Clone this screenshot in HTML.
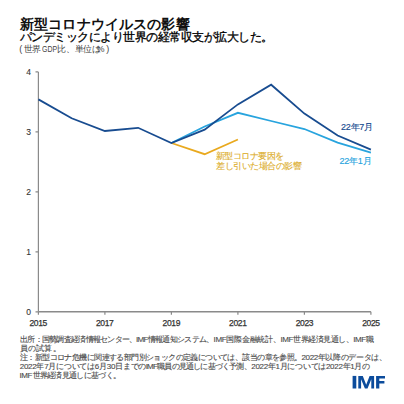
<!DOCTYPE html>
<html lang="ja">
<head>
<meta charset="utf-8">
<style>
html,body{margin:0;padding:0;background:#fff;}
body{width:404px;height:404px;position:relative;overflow:hidden;font-family:"Liberation Sans",sans-serif;}
.t{position:absolute;white-space:nowrap;line-height:1;}
#title{left:20px;top:17px;font-size:14px;font-weight:bold;color:#111;letter-spacing:0.15px;}
#sub{left:20px;top:30.6px;font-size:12px;letter-spacing:-0.51px;color:#000;-webkit-text-stroke:0.3px #000;}
#unit{position:absolute;left:0;top:45px;font-size:9px;color:#444;}
.yl{position:absolute;font-size:8.5px;color:#333;width:10px;text-align:right;left:21px;line-height:1;-webkit-text-stroke:0.1px #333;}
.xl{position:absolute;font-size:8.5px;font-weight:normal;-webkit-text-stroke:0.25px #333;color:#333;width:30px;text-align:center;line-height:1;top:319px;letter-spacing:-0.35px;}
.nl{left:20px;font-size:8px;color:#4a4a4a;-webkit-text-stroke:0.12px #4a4a4a;}
#imf{left:352px;top:373px;font-size:17px;font-weight:bold;color:#0b4b9b;letter-spacing:1.2px;}
</style>
</head>
<body>
<div class="t" id="title">新型コロナウイルスの影響</div>
<div class="t" id="sub">パンデミックにより世界の経常収支が拡大した。</div>
<div id="unit"><span class="t" style="left:19.2px">(</span><span class="t" style="left:23.8px;letter-spacing:-0.3px">世界</span><span class="t" style="left:41.7px;transform:scaleX(0.77);transform-origin:0 0">GDP</span><span class="t" style="left:56.8px;letter-spacing:-0.1px">比、単位は</span><span class="t" style="left:96.5px">%</span><span class="t" style="left:106.2px">)</span></div>

<svg width="404" height="404" style="position:absolute;left:0;top:0">
  <g stroke="#8a8a8a" stroke-width="1.2" fill="none">
    <path d="M38.4 71.9 V311.8" stroke-width="1.2"/><path d="M38.4 311.8 H370.9" stroke-width="1.5"/>
    <path d="M35.5 71.9 H38.4 M35.5 131.8 H38.4 M35.5 191.8 H38.4 M35.5 251.8 H38.4 M35.5 311.8 H38.4"/>
    <path d="M38.4 311.8 V314.8 M104.9 311.8 V314.8 M171.4 311.8 V314.8 M237.9 311.8 V314.8 M304.4 311.8 V314.8 M370.9 311.8 V314.8"/>
  </g>
  <g fill="none" stroke-width="1.8" stroke-linejoin="miter">
    <polyline stroke="#28a4de" points="171.40,143.0 204.65,126.5 237.90,112.8 271.15,121.0 304.40,129.0 337.65,142.7 370.90,152.7"/>
    <polyline stroke="#e9a91e" points="171.40,143.0 204.65,154.2 237.90,139.5"/>
    <polyline stroke="#184c90" points="38.40,99.4 71.65,118.3 104.90,131.0 138.15,127.8 171.40,143.0 204.65,129.7 237.90,104.4 271.15,84.7 304.40,113.6 337.65,135.5 370.90,149.6"/>
  </g>
</svg>

<div class="yl" style="top:68px">4</div>
<div class="yl" style="top:128px">3</div>
<div class="yl" style="top:188px">2</div>
<div class="yl" style="top:248px">1</div>
<div class="yl" style="top:308px">0</div>

<div class="xl" style="left:23.2px">2015</div>
<div class="xl" style="left:89.7px">2017</div>
<div class="xl" style="left:156.3px">2019</div>
<div class="xl" style="left:222.8px">2021</div>
<div class="xl" style="left:289.4px">2023</div>
<div class="xl" style="left:355.9px">2025</div>

<div class="t" id="l7" style="left:341px;top:123px;font-size:9px;letter-spacing:-0.25px;-webkit-text-stroke:0.15px #184c90;color:#184c90;">22年7月</div>
<div class="t" id="l1" style="left:339.5px;top:156.6px;font-size:9px;letter-spacing:-0.25px;-webkit-text-stroke:0.15px #28a4de;color:#28a4de;">22年1月</div>
<div class="t" id="o1" style="left:215.5px;top:152px;font-size:9px;letter-spacing:-0.5px;color:#dcad2a;-webkit-text-stroke:0.12px #dcad2a;">新型コロナ要因を</div>
<div class="t" id="o2" style="left:216px;top:162px;font-size:9px;letter-spacing:-0.5px;color:#dcad2a;-webkit-text-stroke:0.12px #dcad2a;">差し引いた場合の影響</div>

<div class="t nl" id="n1" style="left:20px;top:335.5px;letter-spacing:-0.71px">出所：国勢調査経済情報センター、</div>
<div class="t nl" id="n1b" style="left:135.9px;top:335.5px;letter-spacing:-0.68px">IMF情報通知システム、</div>
<div class="t nl" id="n1c" style="left:213.5px;top:335.5px;letter-spacing:-0.27px">IMF国際金融統計、</div>
<div class="t nl" id="n1d" style="left:280.6px;top:335.5px;letter-spacing:-0.46px">IMF世界経済見通し、</div>
<div class="t nl" id="n1e" style="left:353.3px;top:335.5px;letter-spacing:-0.5px">IMF職</div>
<div class="t nl" id="n2" style="left:20px;top:344.7px;letter-spacing:0.15px">員の試算。</div>
<div class="t nl" id="n3" style="left:20px;top:353.9px;letter-spacing:-0.59px">注：新型コロナ危機に関連する部門別ショックの定義については、該当の章を参照。</div>
<div class="t nl" id="n3b" style="left:301.5px;top:353.9px;letter-spacing:-0.37px">2022年以降のデータは、</div>
<div class="t nl" id="n4" style="left:19.7px;top:363.1px;letter-spacing:-0.26px">2022年7月については6月30日までの</div>
<div class="t nl" id="n4b" style="left:145.7px;top:363.1px;letter-spacing:-0.79px">IMF職員の見通しに基づく予測、</div>
<div class="t nl" id="n4c" style="left:251.3px;top:363.1px;letter-spacing:-0.3px">2022年1月については2022年1月の</div>
<div class="t nl" id="n5" style="left:19.5px;top:372.3px;letter-spacing:-0.43px">IMF</div>
<div class="t nl" id="n5b" style="left:32.5px;top:372.3px;letter-spacing:-0.68px">世界経済見通しに基づく。</div>

<svg width="404" height="404" style="position:absolute;left:0;top:0"><g fill="#0c4c9c">
<rect x="352.6" y="375.9" width="3.7" height="12.6"/>
<polygon points="358.3,388.5 358.3,375.9 362.8,375.9 366.2,384.8 369.6,375.9 374.1,375.9 374.1,388.5 371.3,388.5 371.3,379.2 367.5,388.5 364.9,388.5 361.1,379.2 361.1,388.5"/>
<polygon points="376.1,375.9 385,375.9 385,378.4 379.3,378.4 379.3,381.1 384.4,381.1 384.4,383.6 379.3,383.6 379.3,388.5 376.1,388.5"/>
</g></svg>
</body>
</html>
